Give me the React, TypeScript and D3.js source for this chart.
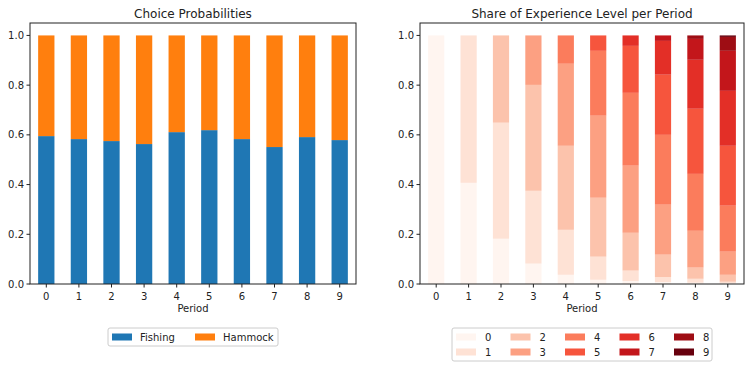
import React from "react";
import * as d3 from "d3";

// periods shown on both x axes
const periods = ["0", "1", "2", "3", "4", "5", "6", "7", "8", "9"];
const yTicks = [0, 0.2, 0.4, 0.6, 0.8, 1.0];

// left panel: choice probabilities
const fishing = [0.595, 0.583, 0.575, 0.563, 0.611, 0.619, 0.583, 0.551, 0.591, 0.579];
const hammock = fishing.map((f) => 1 - f);

// right panel: share of each experience level per period
const level0 = [1.0, 0.407, 0.182, 0.082, 0.037, 0.017, 0.012, 0.008, 0.005, 0.003];
const level1 = [0, 0.593, 0.467, 0.293, 0.181, 0.093, 0.042, 0.02, 0.016, 0.006];
const level2 = [0, 0, 0.351, 0.426, 0.338, 0.237, 0.152, 0.09, 0.045, 0.028];
const level3 = [0, 0, 0, 0.199, 0.33, 0.33, 0.27, 0.201, 0.148, 0.093];
const level4 = [0, 0, 0, 0, 0.114, 0.261, 0.293, 0.281, 0.229, 0.185];
const level5 = [0, 0, 0, 0, 0, 0.062, 0.189, 0.242, 0.262, 0.241];
const level6 = [0, 0, 0, 0, 0, 0, 0.042, 0.136, 0.197, 0.221];
const level7 = [0, 0, 0, 0, 0, 0, 0, 0.022, 0.084, 0.161];
const level8 = [0, 0, 0, 0, 0, 0, 0, 0, 0.014, 0.056];
const level9 = [0, 0, 0, 0, 0, 0, 0, 0, 0, 0.006];
const levels = [level0, level1, level2, level3, level4, level5, level6, level7, level8, level9];
const levelNames = levels.map((_, i) => String(i));

const choiceKeys = ["Fishing", "Hammock"];
const choiceColors = ["#1f77b4", "#ff7f0e"];

// matplotlib "Reds"
const redsStops = ["#fff5f0", "#fee0d2", "#fcbba1", "#fc9272", "#fb6a4a", "#ef3b2c", "#cb181d", "#a50f15", "#67000d"];
const reds = d3
  .scaleLinear<string>()
  .domain(redsStops.map((_, i) => i / 8))
  .range(redsStops)
  .interpolate(d3.interpolateRgb);
const levelColor = (i: number) => reds(i / 9);

const FONT = "DejaVu Sans, sans-serif";
const top = 23;
const bottom = 284;

type Panel = { left: number; right: number };
const leftPanel: Panel = { left: 30, right: 356 };
const rightPanel: Panel = { left: 420, right: 744 };

const y = d3.scaleLinear().domain([0, 1.0]).range([bottom, 35.3 + 0]);
// y domain slightly above 1.0 like matplotlib's margin
const yAxis = d3.scaleLinear().domain([0, 1.05]).range([bottom, top]);

function Axes({ panel, title, children }: { panel: Panel; title: string; children: React.ReactNode }) {
  const x = d3.scaleBand().domain(periods).range([panel.left, panel.right]).paddingInner(0.5).paddingOuter(0.25);
  const cx = (panel.left + panel.right) / 2;
  return (
    <g>
      {children}
      <rect x={panel.left} y={top} width={panel.right - panel.left} height={bottom - top} fill="none" stroke="#222" strokeWidth={1} />
      {yTicks.map((t) => (
        <g key={t} transform={`translate(${panel.left},${yAxis(t)})`}>
          <line x1={-3.5} x2={0} stroke="#222" />
          <text x={-6} dy="0.35em" textAnchor="end" fontSize={10} fontFamily={FONT} fill="#222">
            {t.toFixed(1)}
          </text>
        </g>
      ))}
      {periods.map((p) => (
        <g key={p} transform={`translate(${x(p)! + x.bandwidth() / 2},${bottom})`}>
          <line y1={0} y2={3.5} stroke="#222" />
          <text y={16} textAnchor="middle" fontSize={10} fontFamily={FONT} fill="#222">
            {p}
          </text>
        </g>
      ))}
      <text x={cx} y={312} textAnchor="middle" fontSize={10} fontFamily={FONT} fill="#222">
        Period
      </text>
      <text x={cx} y={18} textAnchor="middle" fontSize={12} fontFamily={FONT} fill="#222">
        {title}
      </text>
    </g>
  );
}

export default function App() {
  const xL = d3.scaleBand().domain(periods).range([leftPanel.left, leftPanel.right]).paddingInner(0.5).paddingOuter(0.25);
  const xR = d3.scaleBand().domain(periods).range([rightPanel.left, rightPanel.right]).paddingInner(0.5).paddingOuter(0.25);

  const choiceRows = periods.map((p, i) => ({ period: p, Fishing: fishing[i], Hammock: hammock[i] }));
  const choiceStack = d3.stack<any>().keys(choiceKeys)(choiceRows);

  const levelRows = periods.map((p, i) => {
    const row: any = { period: p };
    levels.forEach((l, j) => (row[levelNames[j]] = l[i]));
    return row;
  });
  const levelStack = d3.stack<any>().keys(levelNames)(levelRows);

  return (
    <svg width={751} height={368} style={{ position: "absolute", left: 0, top: 0, background: "#fff" }}>
      <Axes panel={leftPanel} title="Choice Probabilities">
        {choiceStack.map((s, k) => (
          <g key={s.key} fill={choiceColors[k]}>
            {s.map((d) => (
              <rect
                key={d.data.period}
                x={xL(d.data.period)}
                width={xL.bandwidth()}
                y={yAxis(d[1])}
                height={yAxis(d[0]) - yAxis(d[1])}
              />
            ))}
          </g>
        ))}
      </Axes>
      <Axes panel={rightPanel} title="Share of Experience Level per Period">
        {levelStack.map((s, k) => (
          <g key={s.key} fill={levelColor(k)}>
            {s.map((d) =>
              d[1] - d[0] > 0 ? (
                <rect
                  key={d.data.period}
                  x={xR(d.data.period)}
                  width={xR.bandwidth()}
                  y={yAxis(d[1])}
                  height={yAxis(d[0]) - yAxis(d[1])}
                />
              ) : null
            )}
          </g>
        ))}
      </Axes>

      {/* left legend */}
      <g transform="translate(108,328)">
        <rect width={170} height={18} rx={2} fill="#fff" fillOpacity={0.8} stroke="#ccc" />
        {choiceKeys.map((k, i) => (
          <g key={k} transform={`translate(${4 + i * 83},0)`}>
            <rect x={0} y={5.5} width={20} height={7} fill={choiceColors[i]} />
            <text x={28} y={13} fontSize={10} fontFamily={FONT} fill="#222">
              {k}
            </text>
          </g>
        ))}
      </g>

      {/* right legend */}
      <g transform="translate(452,328)">
        <rect width={260} height={33} rx={2} fill="#fff" fillOpacity={0.8} stroke="#ccc" />
        {levelNames.map((n, i) => {
          const col = Math.floor(i / 2);
          const row = i % 2;
          return (
            <g key={n} transform={`translate(${4 + col * 54.5},${4 + row * 15})`}>
              <rect x={0} y={1.5} width={20} height={7} fill={levelColor(i)} />
              <text x={29} y={9} fontSize={10} fontFamily={FONT} fill="#222">
                {n}
              </text>
            </g>
          );
        })}
      </g>
    </svg>
  );
}
